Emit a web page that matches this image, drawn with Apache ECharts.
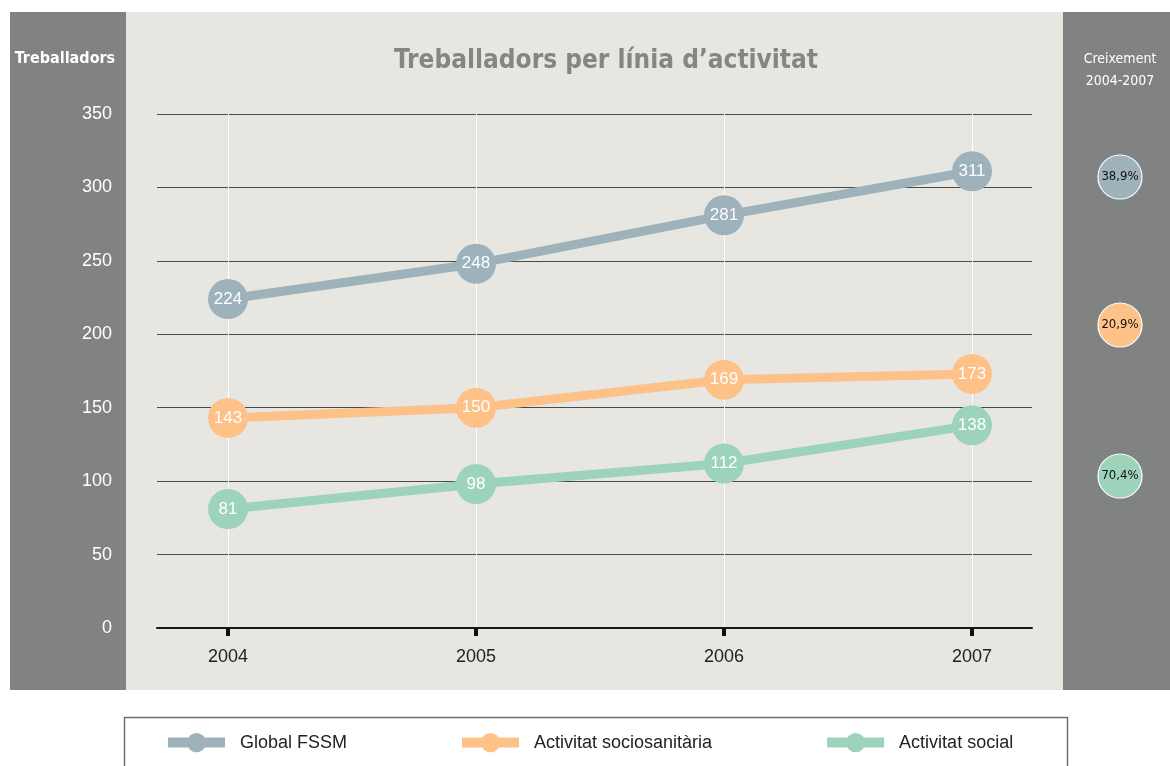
<!DOCTYPE html>
<html>
<head>
<meta charset="utf-8">
<script src="https://cdn.jsdelivr.net/npm/echarts@6/dist/echarts.min.js"></script>
<style>
  html, body { margin: 0; padding: 0; background: #ffffff; }
  #chart { width: 1170px; height: 766px; }
</style>
</head>
<body>
<div id="chart"></div>
<script>
// Treballadors per línia d'activitat, 2004-2007
const years = ['2004', '2005', '2006', '2007'];
const globalFSSM = [224, 248, 281, 311];
const sociosanitaria = [143, 150, 169, 173];
const social = [81, 98, 112, 138];
const seriesNames = ['Global FSSM', 'Activitat sociosanitària', 'Activitat social'];
const growthLabels = ['38,9%', '20,9%', '70,4%'];
const yTicks = [0, 50, 100, 150, 200, 250, 300, 350];

const colors = ['#9eb2bb', '#fec188', '#9dd3ba'];
const condensed = '"Liberation Sans Narrow", "DejaVu Sans Condensed", "Roboto Condensed", "Liberation Sans", sans-serif';
const plain = '"Liberation Sans", Arial, sans-serif';

// vertical position of each growth badge in the right-hand panel
const badgeY = [177, 325, 476];

const chart = echarts.init(document.getElementById('chart'));

const lineSeries = (name, data, color, z) => ({
  name: name,
  type: 'line',
  xAxisIndex: 1,
  yAxisIndex: 1,
  data: data,
  z: z,
  symbol: 'circle',
  symbolSize: 40,
  lineStyle: { color: color, width: 9 },
  itemStyle: { color: color },
  label: {
    show: true,
    position: 'inside',
    color: '#ffffff',
    fontSize: 17,
    fontFamily: plain
  },
  emphasis: { disabled: true },
  animation: false
});

const graphics = [
  // panels
  { type: 'rect', z: -10, shape: { x: 10, y: 12, width: 116, height: 678 }, style: { fill: '#818282' } },
  { type: 'rect', z: -10, shape: { x: 126, y: 12, width: 937, height: 678 }, style: { fill: '#e8e6e1' } },
  { type: 'rect', z: -10, shape: { x: 1063, y: 12, width: 107, height: 678 }, style: { fill: '#818282' } },
  // legend frame
  { type: 'rect', z: -10, shape: { x: 124.5, y: 717.5, width: 943, height: 70 }, style: { fill: '#ffffff', stroke: '#6f6f6f', lineWidth: 1.5 } },
  // texts
  { type: 'text', x: 65, y: 59, style: { text: 'Treballadors', fill: '#ffffff', font: 'bold 16px ' + condensed, align: 'center', verticalAlign: 'middle' } },
  { type: 'text', x: 1120, y: 59, style: { text: 'Creixement', fill: '#ffffff', font: '14px ' + condensed, align: 'center', verticalAlign: 'middle' } },
  { type: 'text', x: 1120, y: 81, style: { text: '2004-2007', fill: '#ffffff', font: '14px ' + condensed, align: 'center', verticalAlign: 'middle' } }
];

growthLabels.forEach((g, i) => {
  graphics.push({
    type: 'circle', z: 5,
    shape: { cx: 1120, cy: badgeY[i], r: 22 },
    style: { fill: colors[i], stroke: '#ffffff', lineWidth: 1.2 }
  });
  graphics.push({
    type: 'text', z: 6, x: 1120, y: badgeY[i],
    style: { text: g, fill: '#111111', font: '13px ' + condensed, align: 'center', verticalAlign: 'middle' }
  });
});

chart.setOption({
  backgroundColor: '#ffffff',
  animation: false,
  title: {
    text: 'Treballadors per línia d’activitat',
    left: 601,
    textAlign: 'center',
    top: 43,
    textStyle: { color: '#858585', fontSize: 26, fontWeight: 'bold', fontFamily: condensed }
  },
  graphic: graphics,
  grid: [
    { left: 157, right: 138, top: 114, bottom: 138 },
    { left: 228, right: 198, top: 114, bottom: 138 }
  ],
  xAxis: [
    {
      gridIndex: 0, type: 'value', min: 0, max: 1,
      axisLine: { show: true, onZero: false, lineStyle: { color: '#1a1a1a', width: 2 } },
      axisTick: { show: false }, axisLabel: { show: false }, splitLine: { show: false }
    },
    {
      gridIndex: 1, type: 'category', data: years, boundaryGap: false,
      axisLine: { show: false },
      axisTick: { show: true, alignWithLabel: true, length: 8, lineStyle: { color: '#111111', width: 4 } },
      axisLabel: { color: '#222222', fontSize: 18, fontFamily: plain, margin: 20 },
      splitLine: { show: true, lineStyle: { color: '#ffffff', width: 1 } }
    }
  ],
  yAxis: [
    {
      gridIndex: 0, type: 'value', min: yTicks[0], max: yTicks[yTicks.length - 1], interval: 50,
      axisLine: { show: false }, axisTick: { show: false },
      axisLabel: { color: '#ffffff', fontSize: 18, fontFamily: plain, margin: 45 },
      splitLine: { show: true, lineStyle: { color: '#4a4a4a', width: 1.2 } }
    },
    {
      gridIndex: 1, type: 'value', min: yTicks[0], max: yTicks[yTicks.length - 1], interval: 50,
      show: false, splitLine: { show: false }
    }
  ],
  legend: {
    data: seriesNames,
    left: 163,
    top: 733,
    padding: 0,
    itemWidth: 57,
    itemHeight: 24,
    itemGap: 110,
    lineStyle: { width: 10 },
    textStyle: { color: '#222222', fontSize: 18, fontFamily: plain, padding: [0, 0, 0, 10] },
    selectedMode: false
  },
  series: [
    lineSeries(seriesNames[0], globalFSSM, colors[0], 3),
    lineSeries(seriesNames[1], sociosanitaria, colors[1], 3),
    lineSeries(seriesNames[2], social, colors[2], 3)
  ]
});
</script>
</body>
</html>
